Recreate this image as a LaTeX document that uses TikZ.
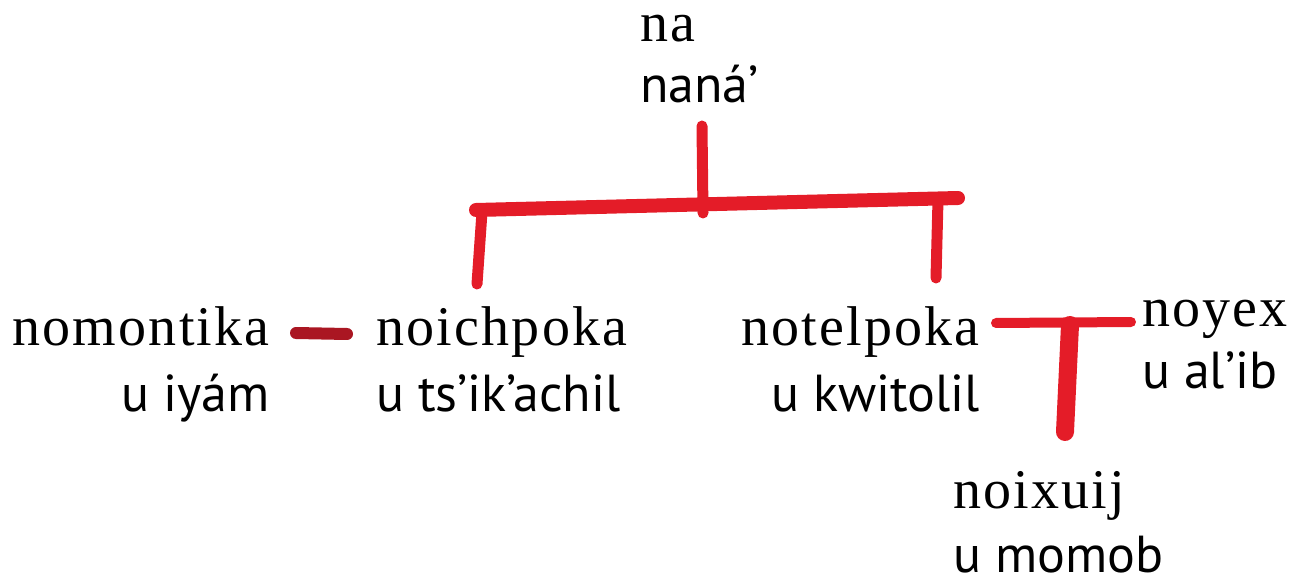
\documentclass[tikz,border=0pt]{standalone}
\usepackage{fontspec}
\setmainfont{Liberation Serif}[LetterSpace=4]
\newfontfamily\sansf{PT Sans}
\definecolor{marker}{RGB}{228,28,40}
\definecolor{markerdark}{RGB}{170,22,34}
\begin{document}
\begin{tikzpicture}[x=1pt,y=-1pt,
  ser/.style={inner sep=0pt,font=\fontsize{56}{65}\selectfont},
  san/.style={inner sep=0pt,font=\sansf\fontsize{52}{60}\selectfont},
  stroke/.style={draw=marker,line width=13pt,line cap=round,line join=round}]
\useasboundingbox (0,0) rectangle (1294,585);
% labels
\node[ser,anchor=base west,text height=24pt] (na1) at (640,42) {na};
\node[san,anchor=base west] (na2) at (640,103) {naná’};
\node[ser,anchor=base east] (nom1) at (270,346) {nomontika};
\node[san,anchor=base east] (nom2) at (270,411) {u iyám};
\node[ser,anchor=base west] (noi1) at (376,346) {noichpoka};
\node[san,anchor=base west] (noi2) at (376,411) {u ts’ik’achil};
\node[ser,anchor=base east] (not1) at (980,346) {notelpoka};
\node[san,anchor=base east] (not2) at (980,411) {u kwitolil};
\node[ser,anchor=base west] (noy1) at (1142,327) {noyex};
\node[san,anchor=base west] (noy2) at (1142,389) {u al’ib};
\node[ser,anchor=base west] (nox1) at (953,508) {noixuij};
\node[san,anchor=base west] (nox2) at (953,572) {u momob};
% stroke points
\coordinate (dashL) at (296,333);
\coordinate (dashR) at (347,334);
\coordinate (topT) at (702,126);
\coordinate (topB) at (703,213);
\coordinate (barL) at (476,210);
\coordinate (barR) at (958,198);
\coordinate (lvT) at (482,212);
\coordinate (lvB) at (477,284);
\coordinate (rvT) at (938,200);
\coordinate (rvB) at (936,278);
\coordinate (tL) at (996,323);
\coordinate (tR) at (1131,322);
\coordinate (tvT) at (1070,325);
\coordinate (tvB) at (1065,432);
% strokes
\draw[stroke,draw=markerdark,line width=12pt] (dashL) -- (dashR);
\draw[stroke,line width=11pt] (topT) -- (topB);
\draw[stroke,line width=14pt] (barL) -- (barR);
\draw[stroke,line width=11pt] (lvT) -- (lvB);
\draw[stroke,line width=11pt] (rvT) -- (rvB);
\draw[stroke,line width=10pt] (tL) -- (tR);
\draw[stroke,line width=18pt] (tvT) -- (tvB);
\end{tikzpicture}
\end{document}
